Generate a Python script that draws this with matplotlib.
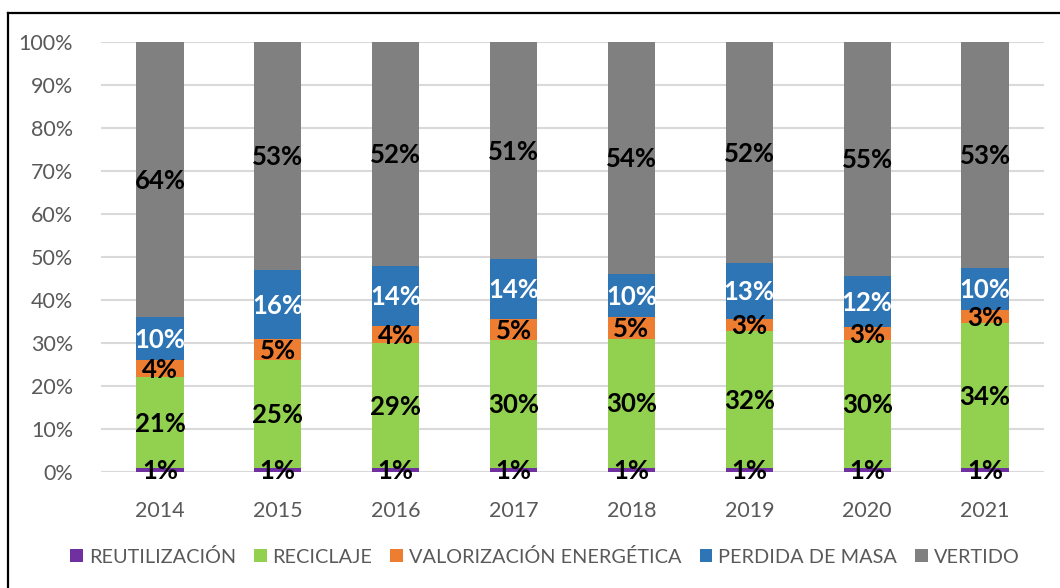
import numpy as np
import matplotlib
matplotlib.use("Agg")
import matplotlib.pyplot as plt
from matplotlib.lines import Line2D

# data (percent)
years = ["2014", "2015", "2016", "2017", "2018", "2019", "2020", "2021"]
reutilizacion = [1, 1, 1, 1, 1, 1, 1, 1]
reciclaje = [21, 25, 29, 30, 30, 32, 30, 34]
valorizacion = [4, 5, 4, 5, 5, 3, 3, 3]
perdida_masa = [10, 16, 14, 14, 10, 13, 12, 10]
vertido = [64, 53, 52, 51, 54, 52, 55, 53]

series_names = ["REUTILIZACIÓN", "RECICLAJE", "VALORIZACIÓN ENERGÉTICA",
                "PERDIDA DE MASA", "VERTIDO"]
series_vals = [reutilizacion, reciclaje, valorizacion, perdida_masa, vertido]
colors = ["#7030A0", "#92D050", "#ED7D31", "#2E75B6", "#808080"]
label_colors = ["black", "black", "black", "white", "black"]

plt.rcParams['font.family'] = ['Lato', 'DejaVu Sans']

fig = plt.figure(figsize=(10.6, 5.88), dpi=100)
ax = fig.add_axes([0.0953, 0.1973, 0.8896, 0.7313])

data = np.array(series_vals, dtype=float)
shares = data / data.sum(axis=0) * 100  # 100% stacked
x = np.arange(len(years))
bottom = np.zeros(len(years))
bars = []
for i in range(len(series_names)):
    b = ax.bar(x, shares[i], 0.4, bottom=bottom, color=colors[i],
               label=series_names[i], zorder=2)
    bars.append(b)
    for j in range(len(years)):
        ax.text(x[j], bottom[j] + shares[i][j] / 2 - 0.3, f"{int(data[i][j])}%",
                ha="center", va="center", fontsize=18.5, fontweight="bold",
                color=label_colors[i], zorder=3)
    bottom += shares[i]

ax.set_xlim(-0.5, len(years) - 0.5)
ax.set_ylim(0, 100)
ax.set_yticks(np.arange(0, 101, 10))
ax.set_yticklabels([f"{v}%" for v in range(0, 101, 10)])
ax.set_xticks(x)
ax.set_xticklabels(years)
ax.tick_params(length=0, labelsize=15.5, labelcolor="#595959")
ax.tick_params(axis="x", pad=21)
ax.tick_params(axis="y", pad=20)
ax.grid(axis="y", color="#D9D9D9", linewidth=1.5, zorder=0)
ax.set_axisbelow(True)
for s in ax.spines.values():
    s.set_visible(False)

fig.legend(handles=bars, labels=series_names, loc="center",
           bbox_to_anchor=(0.514, 0.053), ncol=5, frameon=False,
           fontsize=14.3, labelcolor="#595959", handlelength=0.65,
           handleheight=0.65, handletextpad=0.3, columnspacing=0.9)

# chart border (clipped on the right and bottom in the original)
fig.add_artist(Line2D([8 / 1060, 8 / 1060], [0, 1 - 13 / 588],
                      color="black", linewidth=1.6, transform=fig.transFigure))
fig.add_artist(Line2D([8 / 1060, 1], [1 - 13 / 588, 1 - 13 / 588],
                      color="black", linewidth=1.6, transform=fig.transFigure))

fig.savefig("out.png", dpi=100)
